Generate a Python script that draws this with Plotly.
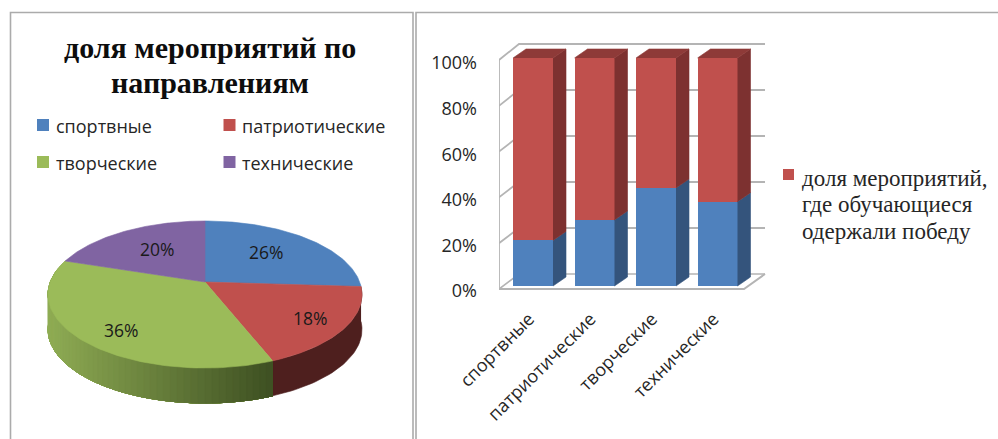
import numpy as np
import plotly.graph_objects as go

# ---- data ----
categories = ["спортвные", "патриотические", "творческие", "технические"]
pie_values = [26, 18, 36, 20]
win_share = [20, 29, 43, 37]
other_share = [80, 71, 57, 63]
y_ticks = [0, 20, 40, 60, 80, 100]
title_lines = ["доля мероприятий по", "направлениям"]
series_lines = ["доля мероприятий,", "где обучающиеся", "одержали победу"]

# ---- style ----
W, H = 998, 439
C = ["#4F81BD", "#C0504D", "#9BBB59", "#8064A2"]
BAR_RED_SIDE, BAR_RED_TOP, BAR_BLUE_SIDE = "#7D3130", "#8E3A38", "#34547C"
WALL = "#B4B4B4"
TXT = "#262626"
SANS, SERIF = "Open Sans", "Liberation Serif"

fig = go.Figure()

# ---- pie drawn on pixel-like main axes ----
CX, CY, A, B, K, DEPTH = 205, 282, 154.7, 71.4, 0.17, 35


def rim(theta_deg, dy=0.0):
    t = np.radians(theta_deg)
    d = 1 + K * np.cos(t)
    return CX + A * np.sin(t) / d, CY - B * np.cos(t) / d + dy


def add_poly(xs, ys, color, xa="x", ya="y"):
    fig.add_trace(go.Scatter(x=list(xs), y=list(ys), xaxis=xa, yaxis=ya, mode="lines",
                             fill="toself", fillcolor=color,
                             line=dict(color=color, width=0.6), hoverinfo="skip"))


def mix(c1, c2, f):
    return "rgb(%d,%d,%d)" % tuple(round(a + (b - a) * f) for a, b in zip(c1, c2))


edges = np.cumsum([0] + pie_values) * 3.6

# red wall
th = np.linspace(edges[1], edges[2], 40)
x0, y0 = rim(th)
x1, y1 = rim(th, DEPTH)
add_poly(np.r_[x0, x1[::-1]], np.r_[y0, y1[::-1]], "#4E1F1E")

# green wall as gradient: painted from the far left end, each layer a shorter span
steps = np.linspace(edges[2], edges[3], 61)
for i in range(59, -1, -1):
    th = np.linspace(edges[2], steps[i + 1], i + 2)
    x0, y0 = rim(th)
    x1, y1 = rim(th, DEPTH)
    xm = float(rim(steps[i])[0])
    f = np.clip((xm - 50) / (275 - 50), 0, 1)
    add_poly(np.r_[x0, x1[::-1]], np.r_[y0, y1[::-1]], mix((143, 172, 84), (62, 80, 34), f))

# top slices
for i in range(4):
    th = np.linspace(edges[i], edges[i + 1], 80)
    rx, ry = rim(th)
    add_poly(np.r_[CX, rx, CX], np.r_[CY, ry, CY], C[i])

# legend swatches
sw_x = [43, 229.5, 43, 229.5]
sw_y = [125, 125, 162, 162]
fig.add_trace(go.Scatter(x=sw_x, y=sw_y, mode="markers", hoverinfo="skip",
                         marker=dict(symbol="square", size=12, color=C)))
# right legend swatch
fig.add_trace(go.Scatter(x=[788.5], y=[174.5], mode="markers", hoverinfo="skip",
                         marker=dict(symbol="square", size=11, color=C[1])))

# ---- bars on their own axes ----
DOM_X = (499, 770)
DOM_Y = (300, 40)
X0, XSTEP = 533.0, 61.5
Y0, YSCALE = 286.0, 2.28


def ux(px):
    return (px - X0) / XSTEP


def uy(py):
    return (Y0 - py) / YSCALE


idx = list(range(len(categories)))
BW = 40 / XSTEP
fig.add_trace(go.Bar(x=idx, y=win_share, width=BW, marker=dict(color=C[0], line_width=0),
                     xaxis="x2", yaxis="y2", hoverinfo="skip"))
fig.add_trace(go.Bar(x=idx, y=other_share, width=BW, marker=dict(color=C[1], line_width=0),
                     xaxis="x2", yaxis="y2", hoverinfo="skip"))

dx, dy = 13 / XSTEP, 9 / YSCALE
for i, (b, r) in enumerate(zip(win_share, other_share)):
    xl, xr = i - BW / 2, i + BW / 2
    tot = b + r
    add_poly([xr, xr + dx, xr + dx, xr], [0, dy, b + dy, b], BAR_BLUE_SIDE, "x2", "y2")
    add_poly([xr, xr + dx, xr + dx, xr], [b, b + dy, tot + dy, tot], BAR_RED_SIDE, "x2", "y2")
    add_poly([xl, xl + dx, xr + dx, xr], [tot, tot + dy, tot + dy, tot], BAR_RED_TOP, "x2", "y2")

# invisible trace that keeps the tick-label axis alive
fig.add_trace(go.Scatter(x=[idx[0]], y=[y_ticks[0]], xaxis="x2", yaxis="y3", mode="markers",
                         marker=dict(opacity=0), hoverinfo="skip"))

shapes = []


def seg(xs, ys, width=1.6, color=WALL):
    path = "M" + " L".join(f"{ux(a):.4f},{uy(b):.3f}" for a, b in zip(xs, ys))
    shapes.append(dict(type="path", path=path, xref="x2", yref="y2", layer="below",
                       line=dict(color=color, width=width)))


for t in y_ticks:
    f = 1 - t / 100
    fy, by = 60 + 229 * f, 44 + 230 * f
    seg([499, 519, 765], [fy, by, by], 1.8 if t else 1.6)
seg([499, 499], [60, 289], 1.8)
seg([499, 744, 765], [289, 289, 274], 2)

# panel borders
for xs, ys in [((10.5, 10.5, 413, 413), (439, 12.5, 12.5, 439)),
               ((416, 416, 998), (439, 12.5, 12.5))]:
    path = "M" + " L".join(f"{a},{b}" for a, b in zip(xs, ys))
    shapes.append(dict(type="path", path=path, xref="x", yref="y", layer="below",
                       line=dict(color="#ABABAB", width=1.6)))

# ---- text ----
ann = []
for line, py in zip(title_lines, [47, 82]):
    ann.append(dict(x=210, y=py, text=line, showarrow=False, xanchor="center", yanchor="middle",
                    font=dict(family=SERIF, size=30, color="#0D0D0D", weight="bold")))
for cat, px, py in zip(categories, [54, 240, 54, 240], [126, 126, 163, 163]):
    ann.append(dict(x=px, y=py, text=cat, showarrow=False, xanchor="left", yanchor="middle",
                    font=dict(family=SANS, size=18, color=TXT)))
for v, px, py in zip(pie_values, [266, 310, 121, 157], [252, 318, 330, 249]):
    ann.append(dict(x=px, y=py, text=f"{v}%", showarrow=False,
                    font=dict(family=SANS, size=17.5, color="#1A1A1A")))
for line, py in zip(series_lines, [178, 204, 231]):
    ann.append(dict(x=800, y=py, text=line, showarrow=False, xanchor="left", yanchor="middle",
                    font=dict(family=SERIF, size=23, color=TXT)))

hidden = dict(visible=False, fixedrange=True)
fig.update_layout(
    width=W, height=H, margin=dict(l=0, r=0, t=0, b=0, autoexpand=False), autosize=False,
    paper_bgcolor="white", plot_bgcolor="rgba(0,0,0,0)", showlegend=False, barmode="stack",
    bargap=0, shapes=shapes, annotations=ann,
    xaxis=dict(domain=[0, 1], range=[0, W], **hidden),
    yaxis=dict(domain=[0, 1], range=[H, 0], **hidden),
    xaxis2=dict(domain=[DOM_X[0] / W, DOM_X[1] / W], range=[ux(DOM_X[0]), ux(DOM_X[1])],
                anchor="y2", tickmode="array", tickvals=idx, ticktext=categories,
                tickangle=-45, showgrid=False, zeroline=False, showline=False, ticks="",
                ticklabelstandoff=4, ticklabelshift=-4,
                automargin=False, fixedrange=True,
                tickfont=dict(family=SANS, size=18, color=TXT)),
    yaxis2=dict(domain=[1 - DOM_Y[0] / H, 1 - DOM_Y[1] / H], range=[uy(DOM_Y[0]), uy(DOM_Y[1])],
                anchor="x2", visible=False, fixedrange=True, automargin=False),
    yaxis3=dict(domain=[1 - 291 / H, 1 - 63 / H], range=[0, 100], anchor="free",
                position=477 / W, side="left", tickmode="array", tickvals=y_ticks,
                ticktext=[f"{t}%" for t in y_ticks], showgrid=False, zeroline=False,
                showline=False, ticks="", fixedrange=True, automargin=False,
                tickfont=dict(family=SANS, size=18, color=TXT)),
)
fig.write_html("out.html", config={"displayModeBar": False},
               post_script="document.body.style.margin='0';")
